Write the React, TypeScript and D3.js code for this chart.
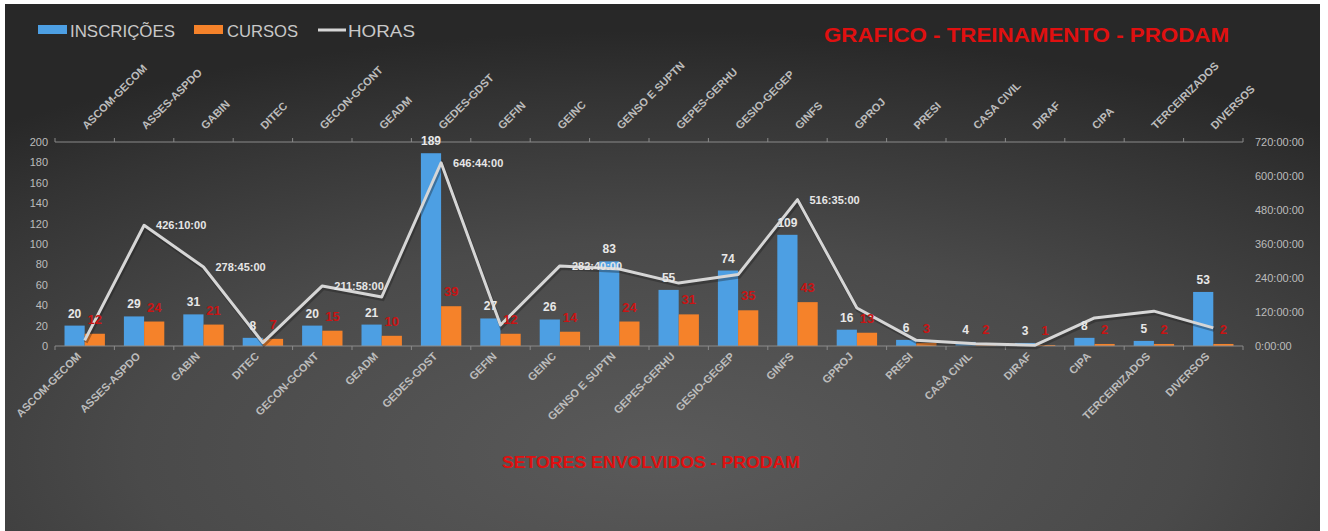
import React from "react";
import * as d3 from "d3";

const categories = [
  "ASCOM-GECOM", "ASSES-ASPDO", "GABIN", "DITEC", "GECON-GCONT", "GEADM",
  "GEDES-GDST", "GEFIN", "GEINC", "GENSO E SUPTN", "GEPES-GERHU", "GESIO-GEGEP",
  "GINFS", "GPROJ", "PRESI", "CASA CIVIL", "DIRAF", "CIPA", "TERCEIRIZADOS", "DIVERSOS",
];
const inscricoes = [20, 29, 31, 8, 20, 21, 189, 27, 26, 83, 55, 74, 109, 16, 6, 4, 3, 8, 5, 53];
const cursos = [12, 24, 21, 7, 15, 10, 39, 12, 14, 24, 31, 35, 43, 13, 3, 2, 1, 2, 2, 2];
// hours
const horas = [20, 426.17, 278.75, 12, 211.97, 173, 646.73, 74, 282.67, 272, 222, 252, 516.58, 134, 20, 8, 3, 99, 123, 64];
const horasLabels = ["", "426:10:00", "278:45:00", "", "211:58:00", "", "646:44:00", "", "282:40:00", "", "", "", "516:35:00", "", "", "", "", "", "", ""];
const leftTicks = [0, 20, 40, 60, 80, 100, 120, 140, 160, 180, 200];
const rightTicks = [0, 120, 240, 360, 480, 600, 720];
const rightTickLabels = ["0:00:00", "120:00:00", "240:00:00", "360:00:00", "480:00:00", "600:00:00", "720:00:00"];

const W = 1328, H = 531;
const BLUE = "#4d9fe3";
const ORANGE = "#f5822a";
const LINE = "#d6d6d6";
const AXIS_TXT = "#bcbcbc";
const FONT = "'Liberation Sans', Arial, sans-serif";

export default function App() {
  const x = d3.scaleBand<string>().domain(categories).range([55, 1243]);
  const yL = d3.scaleLinear().domain([0, 200]).range([346, 142]);
  const yR = d3.scaleLinear().domain([0, 720]).range([346, 142]);
  const bw = x.bandwidth() * 0.34;
  const cx = (c: string) => (x(c) as number) + x.bandwidth() / 2;
  const line = d3.line<number>().x((_, i) => cx(categories[i])).y((d) => yR(d));
  const boundaries = categories.map((c) => x(c) as number).concat([x.range()[1]]);

  return (
    <svg width={W} height={H} style={{ position: "absolute", left: 0, top: 0 }} fontFamily={FONT}>
      <defs>
        <radialGradient id="bg" cx="0.5" cy="0.85" r="0.8">
          <stop offset="0" stopColor="#5a5a5a" />
          <stop offset="0.5" stopColor="#4a4a4a" />
          <stop offset="0.85" stopColor="#333333" />
          <stop offset="1" stopColor="#282828" />
        </radialGradient>
      </defs>
      <rect x={0} y={0} width={W} height={H} fill="#ffffff" />
      <rect x={5} y={4} width={1315} height={527} fill="url(#bg)" />

      {/* legend */}
      <rect x={38} y={25} width={29} height={9} fill={BLUE} />
      <text x={70} y={37} fontSize={17} fill="#c8c8c8" textLength={105} lengthAdjust="spacingAndGlyphs">INSCRIÇÕES</text>
      <rect x={194} y={25} width={29} height={9} fill={ORANGE} />
      <text x={227} y={37} fontSize={17} fill="#c8c8c8" textLength={71} lengthAdjust="spacingAndGlyphs">CURSOS</text>
      <line x1={318} x2={346} y1={30} y2={30} stroke={LINE} strokeWidth={3} />
      <text x={348} y={37} fontSize={17} fill="#c8c8c8" textLength={67} lengthAdjust="spacingAndGlyphs">HORAS</text>

      {/* title */}
      <text x={824} y={42} fontSize={20} fontWeight="bold" fill="#e01010" textLength={405} lengthAdjust="spacingAndGlyphs">GRAFICO - TREINAMENTO - PRODAM</text>

      {/* top axis */}
      <line x1={x.range()[0]} x2={x.range()[1]} y1={142} y2={142} stroke="#8a8a8a" strokeWidth={1} />
      {boundaries.map((b, i) => (
        <line key={"tt" + i} x1={b} x2={b} y1={142} y2={138} stroke="#8a8a8a" />
      ))}
      {categories.map((c) => (
        <text key={"tl" + c} transform={`translate(${cx(c) + 2},${130}) rotate(-45)`} fontSize={11} fontWeight="bold" fill={AXIS_TXT} textAnchor="start">{c}</text>
      ))}

      {/* left axis labels */}
      {leftTicks.map((t) => (
        <text key={"l" + t} x={48} y={yL(t) + 4} fontSize={11} fill={AXIS_TXT} textAnchor="end">{t}</text>
      ))}
      {/* right axis labels */}
      {rightTicks.map((t, i) => (
        <text key={"r" + t} x={1255} y={yR(t) + 4} fontSize={11} fill={AXIS_TXT} textAnchor="start">{rightTickLabels[i]}</text>
      ))}

      {/* bars */}
      {categories.map((c, i) => (
        <g key={"b" + c}>
          <rect x={cx(c) - bw} y={yL(inscricoes[i])} width={bw} height={yL(0) - yL(inscricoes[i])} fill={BLUE} />
          <rect x={cx(c)} y={yL(cursos[i])} width={bw} height={yL(0) - yL(cursos[i])} fill={ORANGE} />
        </g>
      ))}

      {/* bottom axis */}
      <line x1={x.range()[0]} x2={x.range()[1]} y1={346} y2={346} stroke="#8a8a8a" strokeWidth={1} />
      {boundaries.map((b, i) => (
        <line key={"bt" + i} x1={b} x2={b} y1={346} y2={350} stroke="#8a8a8a" />
      ))}
      {categories.map((c) => (
        <text key={"bl" + c} transform={`translate(${cx(c) - 3},${357}) rotate(-45)`} fontSize={11} fontWeight="bold" fill={AXIS_TXT} textAnchor="end">{c}</text>
      ))}

      {/* line */}
      <path d={line(horas) || ""} fill="none" stroke="#1a1a1a" strokeOpacity={0.35} strokeWidth={4} transform="translate(1,2)" />
      <path d={line(horas) || ""} fill="none" stroke={LINE} strokeWidth={3} strokeLinejoin="round" />

      {/* bar labels */}
      {categories.map((c, i) => (
        <g key={"vl" + c}>
          <text x={cx(c) - bw / 2} y={yL(inscricoes[i]) - 8} fontSize={12} fontWeight="bold" fill="#e8e8e8" textAnchor="middle">{inscricoes[i]}</text>
          <text x={cx(c) + bw / 2} y={yL(cursos[i]) - 10} fontSize={13} fontWeight="bold" fill="#c81414" textAnchor="middle">{cursos[i]}</text>
        </g>
      ))}

      {/* line labels */}
      {categories.map((c, i) =>
        horasLabels[i] ? (
          <text key={"hl" + c} x={cx(c) + 12} y={yR(horas[i]) + 4} fontSize={11} fontWeight="bold" fill="#e6e6e6">{horasLabels[i]}</text>
        ) : null
      )}

      {/* bottom title */}
      <text x={502} y={468} fontSize={17} fontWeight="bold" fill="#e01010" textLength={298} lengthAdjust="spacingAndGlyphs">SETORES ENVOLVIDOS - PRODAM</text>
    </svg>
  );
}
